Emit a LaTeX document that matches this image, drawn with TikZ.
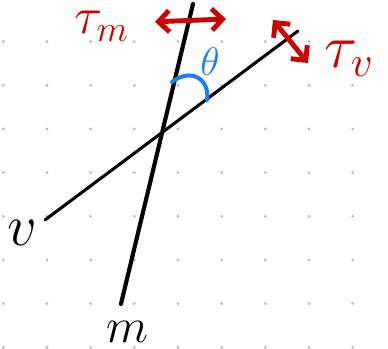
\documentclass[tikz,border=0pt]{standalone}
\usepackage{fix-cm}
\usepackage{tkz-euclide}
\usetikzlibrary{arrows.meta}
\definecolor{inkred}{RGB}{204,0,0}
\definecolor{inkblue}{RGB}{24,128,240}
\definecolor{dotgray}{RGB}{185,185,185}
\tikzset{
  barbs/.style={inkred, line width=3.2pt, line cap=round, line join=round,
    {Straight Barb[length=7pt,width=14pt]}-{Straight Barb[length=7pt,width=14pt]}},
  handlabel/.style={inner sep=0pt, font=\fontsize{30}{32}\selectfont}
}
\begin{document}
\begin{tikzpicture}
      \useasboundingbox (-0.076,-0.039) rectangle (8.81,7.953);
      % 1. 點格背景
      \foreach \i in {0,...,8}
        \foreach \j in {0,...,7}
          \fill[dotgray] (\i,\j) circle (1pt);

      % 2. 兩條直線 m 與 v 的端點
      \tkzDefPoint(4.344,7.861){M_1}
      \tkzDefPoint(2.695,0.992){M_2}
      \tkzDefPoint(6.748,7.243){V_1}
      \tkzDefPoint(0.955,2.915){V_2}

      % 3. 兩個剪應力箭頭的端點
      \tkzDefPoint(3.474,7.453){A_1}
      \tkzDefPoint(5.100,7.518){A_2}
      \tkzDefPoint(6.176,7.495){B_1}
      \tkzDefPoint(6.977,6.510){B_2}

      % 4. 夾角弧
      \tkzDefPoint(3.863,6.075){C_1}
      \tkzDefPoint(4.665,5.663){C_2}

      \tkzDrawSegments[black, line width=2.7pt, line cap=round](M_1,M_2)
      \tkzDrawSegments[black, line width=2pt, line cap=round](V_1,V_2)
      \tkzDrawSegments[barbs](A_1,A_2 B_1,B_2)
      \draw[inkblue, line width=2.6pt, line cap=round]
        (C_1) .. controls (4.275,6.398) and (4.733,6.169) .. (C_2);

      % 5. 標籤
      \node[handlabel, inkred, font=\fontsize{34}{36}\selectfont] (taum) at (2.25,7.36) {$\tau_m$};
      \node[handlabel, inkred, font=\fontsize{40}{42}\selectfont] (tauv) at (7.92,6.60) {$\tau_v$};
      \node[handlabel, inkblue, font=\fontsize{26}{28}\selectfont] (theta) at (4.733,6.54) {$\theta$};
      \node[handlabel, font=\fontsize{38}{40}\selectfont] (vlab) at (0.44,2.62) {$v$};
      \node[handlabel, font=\fontsize{32}{34}\selectfont] (mlab) at (2.855,0.34) {$m$};
    \end{tikzpicture}
\end{document}
